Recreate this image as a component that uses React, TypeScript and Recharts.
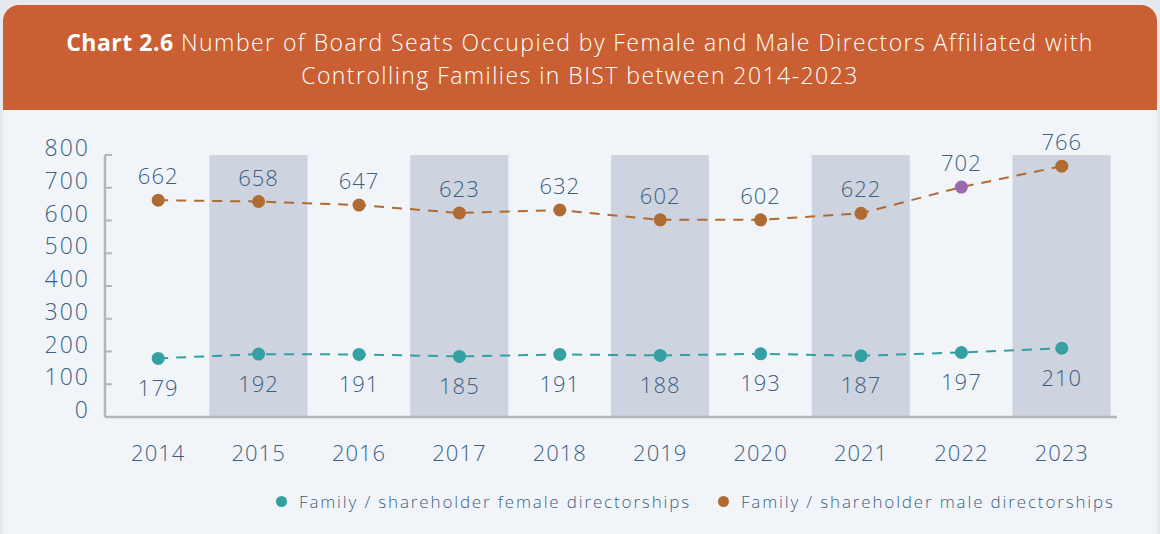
import { Bar, ComposedChart, LabelList, Line, XAxis, YAxis } from "recharts";

const YEARS = ["2014", "2015", "2016", "2017", "2018", "2019", "2020", "2021", "2022", "2023"];
const FEMALE = [179, 192, 191, 185, 191, 188, 193, 187, 197, 210];
const MALE = [662, 658, 647, 623, 632, 602, 602, 622, 702, 766];
const Y_TICKS = [0, 100, 200, 300, 400, 500, 600, 700, 800];
const SHADED_YEARS = ["2015", "2017", "2019", "2021", "2023"];
const HIGHLIGHT_YEAR = "2022";

const SERIES = [
  { key: "female", name: "Family / shareholder female directorships", color: "#34A0A1" },
  { key: "male", name: "Family / shareholder male directorships", color: "#B06B33" },
];

const data = YEARS.map((year, i) => ({
  year,
  female: FEMALE[i],
  male: MALE[i],
  band: SHADED_YEARS.includes(year) ? 800 : null,
}));

const FONT = "'Open Sans', sans-serif";
const TEXT = "#3C5F82";
const AXIS = "#B2B5BA";

function YTick({ x, y, payload }: any) {
  return (
    <g>
      <line x1={x} x2={x + 7} y1={y} y2={y} stroke={AXIS} strokeWidth={2} />
      <text x={x - 15} y={y} dy={1} textAnchor="end" fill={TEXT} fontSize={23} fontWeight={300} fontFamily={FONT} letterSpacing={2}>
        {payload.value}
      </text>
    </g>
  );
}

function maleDot(props: any) {
  const { cx, cy, payload, index } = props;
  const fill = payload.year === HIGHLIGHT_YEAR ? "#9C68AE" : SERIES[1].color;
  return <circle key={index} cx={cx} cy={cy} r={6.5} fill={fill} />;
}

const labelStyle = { fill: TEXT, fontSize: 22, fontFamily: FONT, fontWeight: 300, letterSpacing: 1 };

export default function App() {
  return (
    <div style={{ position: "absolute", left: 0, top: 0, width: 1160, height: 534, background: "#E5E9EE", overflow: "hidden" }}>
      <div style={{ position: "absolute", left: 3, top: 5, width: 1154, height: 540, background: "#F1F5F9", borderRadius: "16px 16px 0 0", overflow: "hidden" }}>
        <div style={{ height: 105, background: "#C95F32", color: "#fff", fontFamily: FONT, fontWeight: 300, fontSize: 23, lineHeight: "33px", textAlign: "center", paddingTop: 21, boxSizing: "border-box", letterSpacing: 1.45 }}>
          <b style={{ fontWeight: 700, letterSpacing: 0.5 }}>Chart 2.6</b> Number of Board Seats Occupied by Female and Male Directors Affiliated with
          <br />
          Controlling Families in BIST between 2014-2023
        </div>
      </div>
      <div style={{ position: "absolute", left: 0, top: 110 }}>
        <ComposedChart width={1160} height={360} data={data} margin={{ top: 45, right: 43, bottom: 0, left: 0 }}>
          <XAxis
            dataKey="year"
            padding={{ left: 3, right: 5 }}
            height={53}
            axisLine={{ stroke: AXIS, strokeWidth: 2.5 }}
            tickLine={false}
            tickSize={0}
            tickMargin={28}
            tick={labelStyle}
          />
          <YAxis
            domain={[0, 800]}
            ticks={Y_TICKS}
            width={105}
            axisLine={{ stroke: AXIS, strokeWidth: 2.5 }}
            tickLine={false}
            tickSize={0}
            tickMargin={0}
            tick={<YTick />}
            interval={0}
          />
          <Bar dataKey="band" fill="#CDD3DF" barSize={98} isAnimationActive={false} />
          <Line
            dataKey="female"
            stroke={SERIES[0].color}
            strokeWidth={2}
            strokeDasharray="10 8"
            dot={{ r: 6.5, fill: SERIES[0].color, stroke: "none" }}
            isAnimationActive={false}
          >
            <LabelList dataKey="female" position="bottom" offset={22} {...labelStyle} />
          </Line>
          <Line
            dataKey="male"
            stroke={SERIES[1].color}
            strokeWidth={2}
            strokeDasharray="10 8"
            dot={maleDot}
            isAnimationActive={false}
          >
            <LabelList dataKey="male" position="top" offset={16} {...labelStyle} />
          </Line>
        </ComposedChart>
      </div>
      <div style={{ position: "absolute", left: 276, top: 490, display: "flex", alignItems: "center", fontFamily: FONT, fontWeight: 300, fontSize: 17, color: TEXT, letterSpacing: 1.85 }}>
        {SERIES.map((s, i) => (
          <div key={s.key} style={{ display: "flex", alignItems: "center", marginLeft: i ? 27 : 0 }}>
            <span style={{ width: 11, height: 11, borderRadius: "50%", background: s.color, marginRight: 12 }} />
            <span>{s.name}</span>
          </div>
        ))}
      </div>
    </div>
  );
}
